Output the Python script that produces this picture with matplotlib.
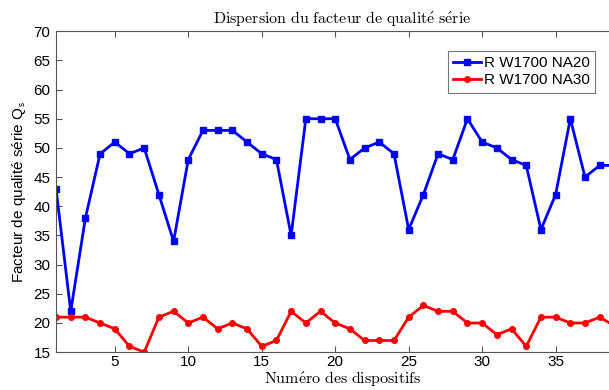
import matplotlib
matplotlib.use('Agg')
import matplotlib.pyplot as plt

# device numbers and series quality factors
devices = list(range(1, 40))
q_na20 = [43, 22, 38, 49, 51, 49, 50, 42, 34, 48,
          53, 53, 53, 51, 49, 48, 35, 55, 55, 55,
          48, 50, 51, 49, 36, 42, 49, 48, 55, 51,
          50, 48, 47, 36, 42, 55, 45, 47, 47]
q_na30 = [21, 21, 21, 20, 19, 16, 15, 21, 22, 20,
          21, 19, 20, 19, 16, 17, 22, 20, 22, 20,
          19, 17, 17, 17, 21, 23, 22, 22, 20, 20,
          18, 19, 16, 21, 21, 20, 20, 21, 19.5]
names = ['R W1700 NA20', 'R W1700 NA30']

plt.rcParams['font.family'] = ['Liberation Sans', 'DejaVu Sans']
plt.rcParams['mathtext.fontset'] = 'cm'

fig = plt.figure(figsize=(6.09, 3.90), dpi=100)
ax = fig.add_axes([0.092, 0.097, 1.033 - 0.092, 0.823])

ax.plot(devices, q_na20, color='#0000ff', lw=2, marker='s', ms=4,
        mfc='#0000ff', mec='#0000ff', label=names[0])
ax.plot(devices, q_na30, color='#ff0000', lw=2, marker='o', ms=4,
        mfc='#ff0000', mec='#ff0000', label=names[1])

ax.set_xlim(1, 40)
ax.set_ylim(15, 70)
ax.set_xticks(range(5, 36, 5))
ax.set_yticks(range(15, 71, 5))
ax.tick_params(direction='in', top=True, right=True, length=4,
               labelsize=11, color='#555555', pad=4)
ax.tick_params(axis='x', pad=2)
for s in ax.spines.values():
    s.set_color('#555555')
    s.set_linewidth(0.8)

# serif titles drawn with Computer Modern via mathtext
ax.set_title(r'$\mathrm{Dispersion\ du\ facteur\ de\ qualit\acute{e}\ s\acute{e}rie}$',
             fontsize=11.5, pad=6)
ax.set_xlabel(r'$\mathrm{Num\acute{e}ro\ des\ dispositifs}$', fontsize=11.5,
              labelpad=0)
ax.set_ylabel('Facteur de qualité série Q$_\\mathsf{s}$', fontsize=11,
              labelpad=4)

leg = ax.legend(loc='upper left', bbox_to_anchor=(448 / 609, 1 - 51 / 390),
                bbox_transform=fig.transFigure, fontsize=11,
                handlelength=1.8, handletextpad=0.2, borderpad=0.35,
                labelspacing=0.2, fancybox=False, edgecolor='#555555',
                borderaxespad=0)
leg.get_frame().set_linewidth(0.8)

fig.savefig('out.png', dpi=100)
